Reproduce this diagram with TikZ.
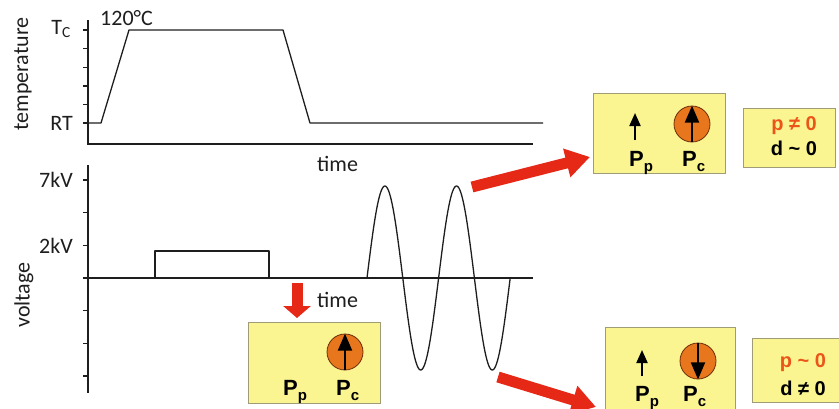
\documentclass[tikz,border=0pt]{standalone}
\usepackage{fontspec}
\setmainfont{Carlito}
\newfontfamily\boxfont{Liberation Sans}
\usetikzlibrary{arrows.meta,calc}
\definecolor{boxfill}{RGB}{250,245,145}
\definecolor{boxline}{RGB}{160,156,118}
\definecolor{dipole}{RGB}{232,118,28}
\definecolor{dipoleline}{RGB}{110,45,10}
\definecolor{flowred}{RGB}{230,40,22}
\definecolor{ink}{RGB}{30,30,30}
\definecolor{pcol}{RGB}{235,85,25}
% polarisation symbol with a large, lowered subscript
\newcommand\polsym[1]{P\raisebox{-5pt}{\fontsize{15}{15}\selectfont #1}}
\begin{document}
\begin{tikzpicture}[x=1pt,y=-1pt,
  axis/.style={line width=1.4pt, draw=ink},
  trace/.style={line width=1.3pt, draw=ink, line join=round},
  lbl/.style={font=\fontsize{22}{22}\selectfont, text=ink, inner sep=0pt},
  panel/.style={draw=boxline, fill=boxfill, line width=1pt, inner sep=0pt},
  dip/.style={circle, draw=dipoleline, fill=dipole, line width=0.8pt, minimum size=36pt, inner sep=0pt},
  pol/.style={line width=2pt, draw=black, -{Triangle[width=14pt,length=17pt]}},
  polfree/.style={line width=2pt, draw=black, -{Triangle[width=11pt,length=13pt]}},
  plbl/.style={font=\boxfont\fontsize{22}{22}\selectfont\bfseries, inner sep=0pt},
  statlbl/.style={font=\boxfont\fontsize{20}{20}\selectfont\bfseries, inner sep=0pt},
  bigarrow/.style={line width=11pt, draw=flowred, -{Triangle[width=28pt,length=24pt]}},
  downarrow/.style={line width=11pt, draw=flowred, -{Triangle[width=27pt,length=12pt]}}
]
\useasboundingbox (0,0) rectangle (839,408);
\clip (0,0) rectangle (839,408);

% ---------- temperature profile ----------
\draw[axis] (88,20) -- (88,144) -- (533,144);
\foreach \t in {0,...,5} \draw[axis] (83,{30+18.6*\t}) -- (88,{30+18.6*\t});
\draw[trace] (88,123) -- (101,123) -- (129,30) -- (283,30) -- (310,123) -- (543,123);
\node[lbl, rotate=90] (tlab) at (23,74) {temperature};
\node[lbl, anchor=base east] (tc) at (71,34) {T\textsubscript{C}};
\node[lbl, anchor=base east] (rt) at (73,130) {RT};
\node[lbl, anchor=base west] (tmax) at (100,25) {120°C};
\node[lbl, anchor=base west] (time1) at (317,171) {time};

% ---------- voltage profile ----------
\draw[axis] (88,165) -- (88,393);
\draw[axis] (83,278) -- (533,278);
\foreach \t in {0,...,6} \draw[axis] (83,{180+32.67*\t}) -- (88,{180+32.67*\t});
\draw[trace] (155,278) -- (155,251) -- (269,251) -- (269,278);
% four half-waves, 35.8 wide each (180/35.8 = 5.028 deg per unit)
\draw[trace] plot[domain=0:143.2, samples=160, smooth]
  ({367+\x}, {278-92*sin(5.028*\x)});
\node[lbl, rotate=90] (vlab) at (24,295) {voltage};
\node[lbl, anchor=base east] (v7) at (73,187) {7kV};
\node[lbl, anchor=base east] (v2) at (73,253) {2kV};
\node[lbl, anchor=base west] (time2) at (317,307) {time};

% ---------- polarisation states ----------
% after the DC pulse
\node[panel, minimum width=132pt, minimum height=81pt] (b1) at (314,362.5) {};
\node[dip] (c1) at (345,352) {};
\draw[pol] (c1.south) -- (c1.north);
\node[plbl, anchor=base west] (pp1) at (283,395) {\polsym{p}};
\node[plbl, anchor=base west] (pc1) at (336,395) {\polsym{c}};

% poled, cycled up
\node[panel, minimum width=132pt, minimum height=80pt] (b2) at (659,133) {};
\coordinate (p2s) at (635,140);
\coordinate (p2e) at (635,113);
\draw[polfree] (p2s) -- (p2e);
\node[dip] (c2) at (692,124) {};
\draw[pol] (c2.south) -- (c2.north);
\node[plbl, anchor=base west] (pp2) at (629,166) {\polsym{p}};
\node[plbl, anchor=base west] (pc2) at (682,166) {\polsym{c}};

\node[panel, minimum width=92pt, minimum height=59pt] (b3) at (789,137.5) {};
\node[statlbl, text=pcol, anchor=base] (s3a) at (794,130) {p ≠ 0};
\node[statlbl, text=black, anchor=base] (s3b) at (794,155) {d \textasciitilde\ 0};

% poled, cycled down
\node[panel, minimum width=130pt, minimum height=88pt] (b4) at (670,371) {};
\coordinate (p4s) at (642,376);
\coordinate (p4e) at (642,350);
\draw[polfree] (p4s) -- (p4e);
\node[dip] (c4) at (698,361) {};
\draw[pol] (c4.north) -- (c4.south);
\node[plbl, anchor=base west] (pp4) at (635,401) {\polsym{p}};
\node[plbl, anchor=base west] (pc4) at (683,401) {\polsym{c}};

\node[panel, minimum width=98pt, minimum height=64pt] (b5) at (801,370) {};
\node[statlbl, text=pcol, anchor=base] (s5a) at (803,367) {p \textasciitilde\ 0};
\node[statlbl, text=black, anchor=base] (s5b) at (803,395) {d ≠ 0};

% ---------- flow arrows ----------
\coordinate (d1s) at (297,283);
\coordinate (d1e) at (297,318);
\draw[downarrow] (d1s) -- (d1e);
\coordinate (u1s) at (472,187);
\coordinate (u1e) at (590,157);
\draw[bigarrow] (u1s) -- (u1e);
\coordinate (l1s) at (498,377);
\coordinate (l1e) at (596,407);
\draw[bigarrow] (l1s) -- (l1e);
\end{tikzpicture}
\end{document}
